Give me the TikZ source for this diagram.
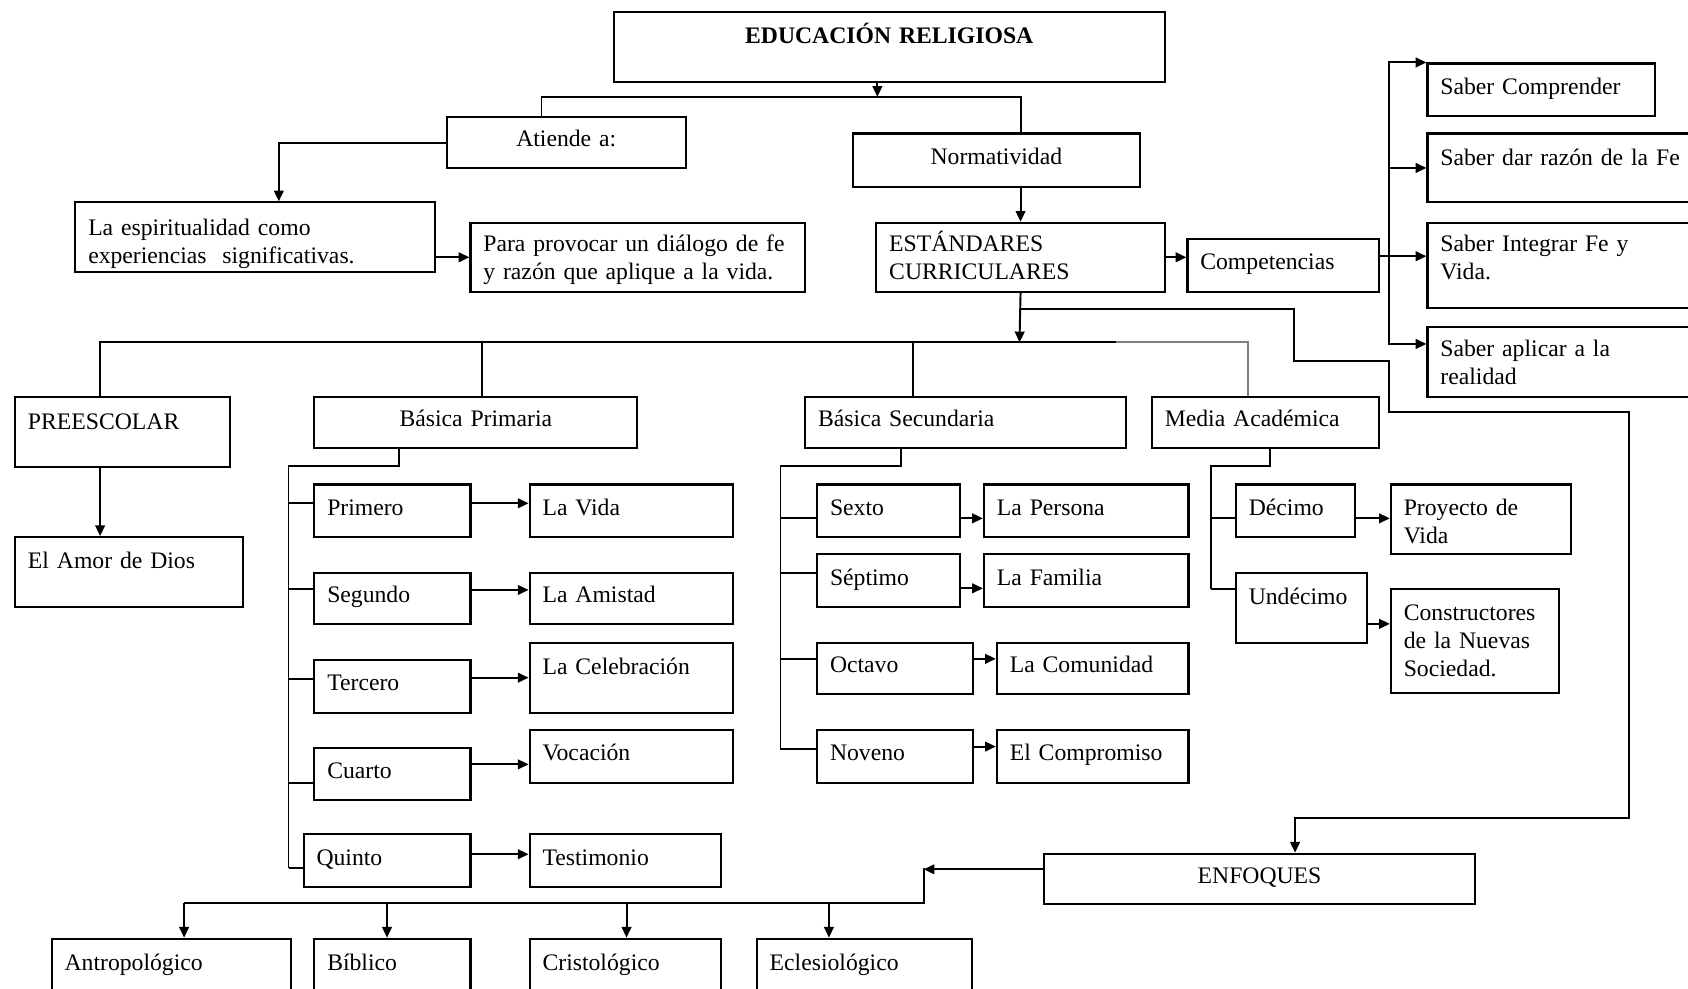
\documentclass[tikz,border=0pt]{standalone}
\usepackage{fontspec}
\setmainfont{Liberation Serif}
\usetikzlibrary{arrows.meta,calc}

\begin{document}
\begin{tikzpicture}[
    x=1pt, y=-1pt,
    caja/.style 2 args={
        draw, line width=2pt, anchor=north west,
        minimum width=#1, minimum height=#2, text width=#1-24,
        inner xsep=12pt, inner ysep=0pt, align=left,
        text height=15pt, text depth=7pt,
        font=\fontsize{22}{26}\selectfont
    },
    arriba/.style={text depth=#1},
    centro/.style={align=center},
    linea/.style={line width=1.8pt},
    flecha/.style={-{Triangle[length=10pt,width=9pt]}, line width=1.8pt},
]
\useasboundingbox (0,0) rectangle (1568,918);
\clip (0,0) rectangle (1568,918);

% Level 0: title
\node[caja={512}{65}, centro, arriba=21pt, font=\fontsize{22}{26}\selectfont\bfseries] (titulo) at (569,10) {EDUCACIÓN RELIGIOSA};

% Level 1
\node[caja={222}{47}, centro] (atiende) at (414,108) {Atiende a:};
\node[caja={267}{50}, centro] (normatividad) at (791,123) {Normatividad};
\node[caja={334}{65}, arriba=19pt] (espiritualidad) at (69,187) {La espiritualidad como\\experiencias\ \ significativas.};
\node[caja={311}{64}, arriba=26pt] (provocar) at (436,206) {Para provocar un diálogo de fe\\y razón que aplique a la vida.};
\node[caja={268}{64}, arriba=26pt] (estandares) at (813,206) {ESTÁNDARES\\CURRICULARES};
\node[caja={178}{49}] (competencias) at (1102,221) {Competencias};

% Competencias
\node[caja={211}{49}] (comprender) at (1325,58) {Saber Comprender};
\node[caja={263}{64}, arriba=20pt] (razon) at (1325,123) {Saber dar razón de la Fe};
\node[caja={263}{79}, arriba=41pt] (integrar) at (1325,206) {Saber Integrar Fe y\\Vida.};
\node[caja={263}{65}, arriba=25pt] (aplicar) at (1325,303) {Saber aplicar a la\\realidad};

% Level 2: niveles
\node[caja={200}{65}, arriba=21pt] (preescolar) at (13,368) {PREESCOLAR};
\node[caja={212}{65}, arriba=21pt] (amor) at (13,498) {El Amor de Dios};
\node[caja={300}{47}, centro] (primaria) at (291,368) {Básica Primaria};
\node[caja={298}{47}] (secundaria) at (747,368) {Básica Secundaria};
\node[caja={211}{47}] (media) at (1069,368) {Media Académica};

% Basica primaria
\node[caja={145}{49}] (primero) at (291,449) {Primero};
\node[caja={189}{49}] (vida) at (491,449) {La Vida};
\node[caja={145}{48}] (segundo) at (291,531) {Segundo};
\node[caja={189}{48}] (amistad) at (491,531) {La Amistad};
\node[caja={145}{49}] (tercero) at (291,612) {Tercero};
\node[caja={189}{65}, arriba=21pt] (celebracion) at (491,596) {La Celebración};
\node[caja={145}{48}] (cuarto) at (291,694) {Cuarto};
\node[caja={189}{49}] (vocacion) at (491,677) {Vocación};
\node[caja={155}{49}] (quinto) at (281,774) {Quinto};
\node[caja={178}{49}] (testimonio) at (491,774) {Testimonio};

% Basica secundaria
\node[caja={133}{49}] (sexto) at (758,449) {Sexto};
\node[caja={190}{49}] (persona) at (913,449) {La Persona};
\node[caja={133}{49}] (septimo) at (758,514) {Séptimo};
\node[caja={190}{49}] (familia) at (913,514) {La Familia};
\node[caja={145}{48}] (octavo) at (758,596) {Octavo};
\node[caja={178}{48}] (comunidad) at (925,596) {La Comunidad};
\node[caja={145}{49}] (noveno) at (758,677) {Noveno};
\node[caja={178}{49}] (compromiso) at (925,677) {El Compromiso};

% Media academica
\node[caja={111}{49}] (decimo) at (1147,449) {Décimo};
\node[caja={167}{65}, arriba=23pt] (proyecto) at (1291,449) {Proyecto de\\Vida};
\node[caja={122}{65}, arriba=21pt] (undecimo) at (1147,531) {Undécimo};
\node[caja={156}{97}, arriba=53pt] (constructores) at (1291,546) {Constructores\\de la Nuevas\\Sociedad.};

% Enfoques
\node[caja={400}{47}, centro] (enfoques) at (969,792) {ENFOQUES};
\node[caja={222}{65}, arriba=21pt] (antropo) at (47,871) {Antropológico};
\node[caja={145}{65}, arriba=21pt] (biblico) at (291,871) {Bíblico};
\node[caja={178}{65}, arriba=21pt] (cristo) at (491,871) {Cristológico};
\node[caja={200}{65}, arriba=21pt] (ecle) at (702,871) {Eclesiológico};

% Arrows: top
\coordinate (reparto1) at (815,90);
\draw[flecha] (titulo.south -| reparto1) -- (reparto1);
\draw[linea] ([xshift=-23pt]atiende.north) |- (reparto1) -| (estandares.north |- normatividad.north);
\draw[flecha] (normatividad.south -| estandares.north) -- (estandares.north);
\draw[flecha] (atiende.west) -| ([xshift=22pt]espiritualidad.north);
\draw[flecha] (espiritualidad.east |- provocar.west) -- (provocar.west);
\draw[flecha] (estandares.east) -- (estandares.east -| competencias.west);

% Arrows: competencias
\coordinate (bus) at (1290,238);
\draw[linea] (competencias.east |- bus) -- (bus);
\draw[flecha] (bus) -- (bus -| integrar.west);
\draw[flecha] (bus) |- (comprender.north west);
\draw[flecha] (bus) |- (razon.west);
\draw[flecha] (bus) |- ([yshift=17pt]aplicar.west);

% Arrows: niveles
\coordinate (nivel2) at (947,318);
\coordinate (corte) at (1037,318);
\draw[flecha] (estandares.south) -- (nivel2);
\draw[linea] ([xshift=-21pt]preescolar.north) |- (corte);
\draw[linea] ([xshift=6pt]primaria.north) -- ([xshift=6pt]primaria.north |- nivel2);
\draw[linea] ([xshift=-49pt]secundaria.north) -- ([xshift=-49pt]secundaria.north |- nivel2);
\draw[linea, gray] (corte) -| ([xshift=-16pt]media.north);
\draw[flecha] ([xshift=-21pt]preescolar.south) -- ([xshift=-21pt]preescolar.south |- amor.north);

% Primaria
\coordinate (tronco1) at (268,433);
\draw[linea] ([xshift=-71pt]primaria.south) |- (tronco1) -- ([yshift=-7pt]tronco1 |- quinto.west);
\foreach \g/\d in {primero/7, segundo/9, tercero/7, cuarto/-8, quinto/-7}
    \draw[linea] ([yshift=\d]tronco1 |- \g.west) -- ([yshift=\d]\g.west);
\draw[flecha] ([yshift=7pt]primero.east) -- ([yshift=7pt]vida.west);
\draw[flecha] ([yshift=8pt]segundo.east) -- ([yshift=8pt]amistad.west);
\draw[flecha] (tercero.east |- celebracion.west) -- (celebracion.west);
\draw[flecha] ([yshift=9pt]cuarto.east) -- ([yshift=9pt]cuarto.east -| vocacion.west);
\draw[flecha] ([yshift=6pt]quinto.east) -- ([yshift=6pt]quinto.east -| testimonio.west);

% Secundaria
\coordinate (tronco2) at (725,433);
\draw[linea] ([xshift=-60pt]secundaria.south) |- (tronco2) -- ([yshift=7pt]tronco2 |- noveno.west);
\foreach \g/\d in {sexto/-7, septimo/7, octavo/9, noveno/7}
    \draw[linea] ([yshift=\d]tronco2 |- \g.west) -- ([yshift=\d]\g.west);
\draw[flecha] ([yshift=-7pt]sexto.east) -- ([yshift=-7pt]persona.west);
\draw[flecha] ([yshift=-7pt]septimo.east) -- ([yshift=-7pt]familia.west);
\draw[flecha] ([yshift=9pt]octavo.east) -- ([yshift=9pt]comunidad.west);
\draw[flecha] ([yshift=9pt]noveno.east) -- ([yshift=9pt]compromiso.west);

% Media
\coordinate (tronco3) at (1125,433);
\draw[linea] ([xshift=4pt]media.south) |- (tronco3) -- ([yshift=17pt]tronco3 |- undecimo.west);
\draw[linea] ([yshift=-7pt]tronco3 |- decimo.west) -- ([yshift=-7pt]decimo.west);
\draw[linea] ([yshift=17pt]tronco3 |- undecimo.west) -- ([yshift=17pt]undecimo.west);
\draw[flecha] ([yshift=-7pt]decimo.east) -- ([yshift=-7pt]decimo.east -| proyecto.west);
\draw[flecha] ([yshift=-15pt]undecimo.east) -- ([yshift=-15pt]undecimo.east -| constructores.west);

% Enfoques
\draw[flecha] (estandares.south |- 0,287) -| (1202,335) -| (1290,383) -| (1513,760) -| ([xshift=33pt]enfoques.north);
\coordinate (esquina) at (858,806);
\draw[flecha] ([yshift=9pt]enfoques.west) -- ([yshift=9pt]enfoques.west -| esquina);
\draw[linea] (esquina) |- ([xshift=12pt]antropo.north |- 0,839);
\foreach \e/\d in {antropo/12, biblico/-5, cristo/1, ecle/-33}
    \draw[flecha] ([xshift=\d]\e.north |- 0,839) -- ([xshift=\d]\e.north);
\end{tikzpicture}
\end{document}
